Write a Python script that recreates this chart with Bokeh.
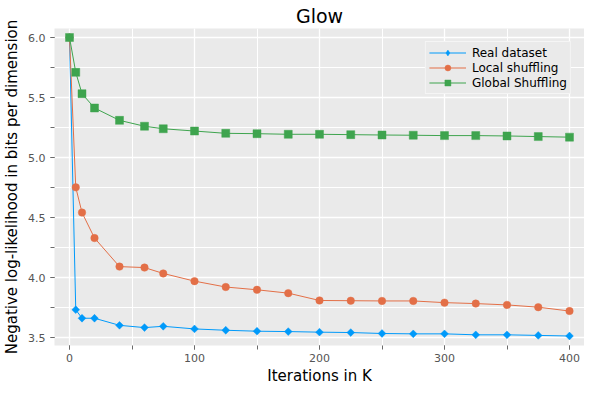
import math
from bokeh.plotting import figure
from bokeh.models import SingleIntervalTicker, PrintfTickFormatter, Range1d, Legend, LegendItem, ColumnDataSource, Title
from bokeh.embed import file_html
from bokeh.resources import INLINE

iterations = [0, 5, 10, 20, 40, 60, 75, 100, 125, 150, 175, 200, 225, 250, 275, 300, 325, 350, 375, 400]
real_dataset = [6.0, 3.733, 3.662, 3.662, 3.603, 3.584, 3.595, 3.573, 3.562, 3.554, 3.551, 3.546,
                3.543, 3.535, 3.532, 3.532, 3.524, 3.524, 3.519, 3.514]
local_shuffling = [6.0, 4.752, 4.542, 4.33, 4.092, 4.084, 4.035, 3.971, 3.922, 3.899, 3.871, 3.81,
                   3.808, 3.806, 3.806, 3.792, 3.784, 3.773, 3.754, 3.722]
global_shuffling = [6.0, 5.71, 5.532, 5.413, 5.31, 5.261, 5.24, 5.221, 5.202, 5.199, 5.194, 5.194,
                    5.191, 5.188, 5.186, 5.183, 5.183, 5.18, 5.175, 5.17]
series_names = ["Real dataset", "Local shuffling", "Global Shuffling"]
colors = ["#009AFA", "#E36F47", "#3EA44E"]

p = figure(width=584, height=384, output_backend="svg", toolbar_location=None,
           x_range=Range1d(-12, 412), y_range=Range1d(3.435, 6.075),
           min_border_left=44, min_border_right=0, min_border_top=6, min_border_bottom=0)

p.background_fill_color = "#EAEAEA"
p.border_fill_color = "white"
p.outline_line_color = None

p.title.text = "Glow"
p.title.align = "center"
p.title.text_font = "DejaVu Sans"
p.title.text_font_size = "19px"
p.title.text_font_style = "normal"
p.title.text_color = "black"
p.title.standoff = 4

p.xaxis.ticker = SingleIntervalTicker(interval=100, num_minor_ticks=2)
p.yaxis.ticker = SingleIntervalTicker(interval=0.5, num_minor_ticks=2)
p.yaxis.formatter = PrintfTickFormatter(format="%.1f")

for ax in (p.xaxis, p.yaxis):
    ax.axis_line_color = None
    ax.major_tick_in = 0
    ax.major_tick_out = 4
    ax.minor_tick_in = 0
    ax.minor_tick_out = 4
    ax.major_tick_line_color = "#6A6A6A"
    ax.minor_tick_line_color = "#6A6A6A"
    ax.major_label_text_font = "DejaVu Sans"
    ax.major_label_text_font_size = "11px"
    ax.major_label_text_color = "#555555"
    ax.major_label_standoff = 5
    ax.axis_label_text_font = "DejaVu Sans"
    ax.axis_label_text_font_size = "15px"
    ax.axis_label_text_font_style = "normal"
    ax.axis_label_text_color = "black"
    ax.axis_label_standoff = 4

p.xaxis.major_label_standoff = 4

p.yaxis.axis_label = "Negative log-likelihood in bits per dimension"

xlabel = Title(text="Iterations in K", align="center", text_font="DejaVu Sans",
               text_font_size="15px", text_font_style="normal", text_color="black",
               standoff=0, offset=0)
p.add_layout(xlabel, "below")

for g in (p.xgrid, p.ygrid):
    g.grid_line_color = "white"
    g.grid_line_width = 1.3
    g.minor_grid_line_color = "white"
    g.minor_grid_line_width = 1

ys = [real_dataset, local_shuffling, global_shuffling]
markers = ["square", "circle", "square"]
legend_markers = ["diamond", "circle", "square"]
angles = [math.pi / 4, 0, 0]
sizes = [5.5, 7.5, 8]

items = []
nan = float("nan")
for name, y, c, m, lm, a, s in zip(series_names, ys, colors, markers, legend_markers, angles, sizes):
    src = ColumnDataSource(dict(x=iterations, y=y))
    lr = p.line("x", "y", source=src, line_color=c, line_width=1)
    sr = p.scatter("x", "y", source=src, marker=m, angle=a, size=s,
                   fill_color=c, line_color=c, line_alpha=0.45, line_width=1)
    dummy = p.scatter(x=[nan], y=[nan], marker=lm, size=9,
                      fill_color=c, line_color=c, line_alpha=0.45, line_width=1)
    items.append(LegendItem(label=name, renderers=[lr, dummy]))

legend = Legend(items=items, location="top_right")
legend.margin = 13
legend.padding = 3
legend.spacing = 0
legend.glyph_width = 37
legend.glyph_height = 15
legend.label_height = 15
legend.label_standoff = 6
legend.label_text_font = "DejaVu Sans"
legend.label_text_font_size = "12px"
legend.label_text_color = "black"
legend.background_fill_color = "#EAEAEA"
legend.background_fill_alpha = 1
legend.border_line_color = "white"
legend.border_line_width = 1
p.add_layout(legend, "center")

open("out.html", "w").write(file_html(p, INLINE))
